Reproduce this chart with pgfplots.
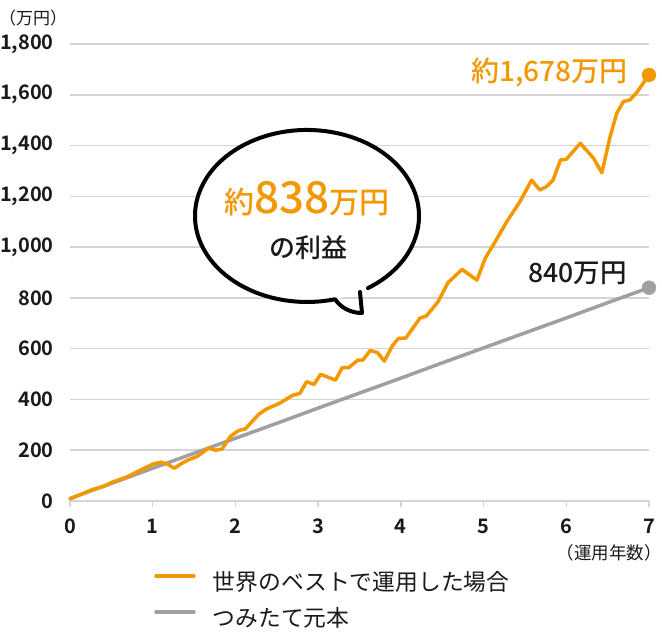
\documentclass[border=0pt]{standalone}
\usepackage{fontspec}
\setmainfont{Noto Sans CJK JP}
\newfontfamily\medfont{Noto Sans CJK JP Medium}
\newfontfamily\boldfont{Noto Sans CJK JP Bold}
\usepackage{pgfplots}
\pgfplotsset{compat=1.18}

\definecolor{orng}{RGB}{243,152,0}
\definecolor{ltgray}{RGB}{160,160,160}
\definecolor{gridgray}{RGB}{212,212,212}
\definecolor{txt}{RGB}{26,26,26}

\begin{document}
\begin{tikzpicture}
    % fixed page: 662 x 634, plot box starts at (0,0)
    \path[use as bounding box] (-70pt,-133pt) rectangle (592pt,501pt);

    \begin{axis}[
            scale only axis,
            width=579pt,
            height=457pt,
            xmin=0, xmax=7,
            ymin=0, ymax=1800,
            clip=false,
            axis lines*=left,
            y axis line style={draw=none},
            x axis line style={draw=gridgray, line width=1.5pt},
            xtick={0,1,2,3,4,5,6,7},
            ytick={0,200,400,600,800,1000,1200,1400,1600,1800},
            ymajorgrids,
            grid style={gridgray, line width=1.5pt},
            tick align=outside,
            major tick length=6pt,
            xtick style={draw=gridgray, line width=1.5pt},
            ytick style={draw=none},
            ticklabel style={font=\boldfont\fontsize{20}{24}\selectfont, text=txt},
            /pgf/number format/assume math mode=true,
            /pgf/number format/1000 sep={,},
            yticklabel style={inner sep=0pt, xshift=-10pt},
            xticklabel style={inner sep=0pt, yshift=-12pt},
            reverse legend,
            legend cell align={left},
            legend image code/.code={\draw[#1] (0pt,7.5pt) -- (38pt,7.5pt);},
            legend style={
                    draw=none, fill=none,
                    at={(axis description cs:0.1451,-0.1597)},
                    anchor=north west,
                    inner sep=0pt,
                    row sep=17pt,
                    font=\fontsize{22.8}{26}\selectfont,
                    text=txt,
                    nodes={inner sep=0pt, text height=16pt, text depth=3pt},
                    /tikz/every odd column/.append style={column sep=17pt},
                },
        ]
        % つみたて元本
        \addplot [ltgray, line width=3.5pt, line cap=round, line join=round]
        table {%
                0   10
                0.5 69
                1   129
                1.5 188
                2   247
                2.5 306
                3   366
                3.5 425
                4   484
                4.5 544
                5   603
                5.5 662
                6   721
                6.5 781
                7   840
            };
        \addlegendentry{つみたて元本}
        % 世界のベストで運用した場合
        \addplot [orng, line width=3.5pt, line cap=round, line join=round]
        table {%
                0    8
                0.27 45
                0.41 58
                0.51 74
                0.69 95
                0.83 118
                1.00 145
                1.10 153
                1.18 145
                1.26 129
                1.36 150
                1.44 163
                1.54 176
                1.68 209
                1.76 200
                1.84 205
                1.94 255
                2.04 278
                2.12 284
                2.28 341
                2.38 363
                2.53 384
                2.69 416
                2.78 424
                2.86 470
                2.95 459
                3.03 499
                3.21 476
                3.29 525
                3.37 525
                3.48 555
                3.54 555
                3.63 593
                3.72 584
                3.80 551
                3.90 613
                3.97 640
                4.06 642
                4.23 720
                4.31 729
                4.45 785
                4.57 860
                4.74 912
                4.92 870
                5.02 956
                5.14 1021
                5.28 1100
                5.44 1179
                5.58 1264
                5.68 1225
                5.76 1238
                5.84 1264
                5.93 1343
                6.00 1346
                6.17 1409
                6.33 1350
                6.43 1293
                6.53 1435
                6.61 1527
                6.69 1573
                6.77 1580
                6.85 1608
                7.00 1678
            };
        \addlegendentry{世界のベストで運用した場合}
        % end points
        \addplot [forget plot, only marks, mark=*, mark size=7pt, ltgray]
        coordinates {(7,840)};
        \addplot [forget plot, only marks, mark=*, mark size=7pt, orng]
        coordinates {(7,1678)};
    \end{axis}

    % unit labels
    \node[anchor=base west, inner sep=0pt, text=txt, font=\fontsize{17}{20}\selectfont]
        at (-71pt,476pt) {（万円）};
    \node[anchor=base east, inner sep=0pt, text=txt, font=\fontsize{17.5}{20}\selectfont]
        at (592pt,-59pt) {（運用年数）};

    % end labels
    \node[anchor=base east, inner sep=0pt, text=orng, font=\medfont\fontsize{28}{32}\selectfont]
        at (558pt,419pt) {約1,678万円};
    \node[anchor=base east, inner sep=0pt, text=txt, font=\medfont\fontsize{26.5}{30}\selectfont]
        at (557pt,218pt) {840万円};

    % speech bubble
    \fill[white] (237pt,285pt) ellipse [x radius=112pt, y radius=86pt];
    \draw[line width=4pt, line cap=round, line join=round, black]
        (298pt,212.9pt) arc[start angle=-57, end angle=284.5, x radius=112pt, y radius=86pt]
        .. controls (271pt,193pt) and (281pt,188pt) .. (292pt,188pt)
        -- (290pt,209pt);
    \node[anchor=base, inner sep=0pt, text=orng, font=\medfont]
        at (237pt,287pt) {\fontsize{30}{34}\selectfont 約\fontsize{44}{48}\selectfont 838\fontsize{30}{34}\selectfont 万円};
    \node[anchor=base, inner sep=0pt, text=txt, font=\medfont\fontsize{26}{30}\selectfont]
        at (238pt,243pt) {の利益};
\end{tikzpicture}
\end{document}
